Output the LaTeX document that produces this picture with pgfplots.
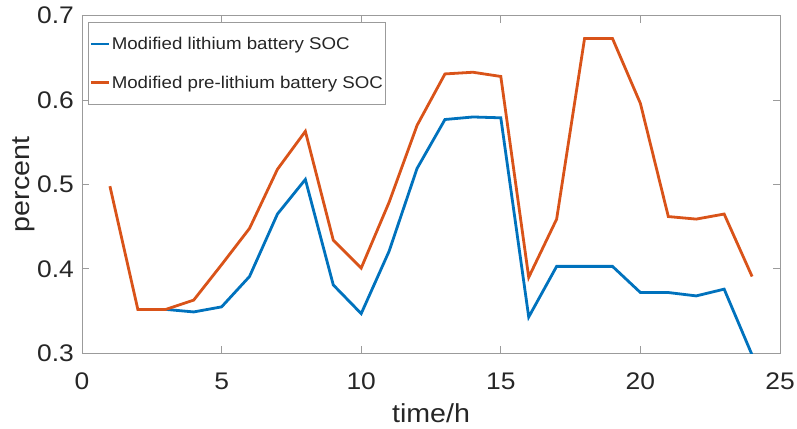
\documentclass[border=0pt]{standalone}
\usepackage{fontspec}
\setmainfont[FakeStretch=1.1]{Liberation Sans}
\newfontfamily\legendfont[FakeStretch=1.1]{Liberation Sans}
\usepackage{pgfplots}
\pgfplotsset{compat=1.18}

\definecolor{socblue}{rgb}{0,0.447,0.741}
\definecolor{socorange}{rgb}{0.85,0.325,0.098}
\definecolor{framegray}{RGB}{155,155,155}
\definecolor{textdark}{RGB}{38,38,38}

\begin{document}
\begin{tikzpicture}
\begin{axis}[
  scale only axis,
  width=698pt, height=337.6pt,
  xmin=0, xmax=25, ymin=0.3, ymax=0.7,
  xtick={0,5,10,15,20,25},
  ytick={0.3,0.4,0.5,0.6,0.7},
  /pgf/number format/assume math mode=true,
  axis line style={framegray, line width=0.9pt},
  tick style={framegray, line width=0.9pt},
  tick align=inside,
  major tick length=7pt,
  xtick pos=both, ytick pos=both,
  ticklabel style={font=\fontsize{24}{28}\selectfont, text=textdark, inner sep=0pt},
  xticklabel style={anchor=north, yshift=-19.7pt},
  yticklabel style={anchor=east, xshift=-8pt,
    /pgf/number format/fixed, /pgf/number format/fixed zerofill,
    /pgf/number format/precision=1},
  xlabel={time/h},
  ylabel={percent},
  label style={font=\fontsize{26}{30}\selectfont, text=textdark, inner sep=0pt},
  xlabel style={at={(axis description cs:0.5,0)}, anchor=base, yshift=-69.7pt},
  ylabel style={at={(axis description cs:-0.0752,0.5)}, anchor=base},
  legend cell align=left,
  legend style={
    at={(axis description cs:0.0086,0.981)}, anchor=north west,
    draw=framegray, line width=0.9pt, fill=white,
    font=\legendfont\fontsize{17}{20}\selectfont, text=textdark,
    inner xsep=1pt, inner ysep=12.5pt,
    row sep=21pt,
    nodes={inner xsep=1.5pt, inner ysep=2pt},
  },
  legend image code/.code={\draw[#1, line width=2.8pt] (0pt,0pt) -- (18pt,0pt);},
]
% the first two hours coincide with the orange curve, so the blue one starts at hour 3
\addplot[socblue, line width=2.8pt] coordinates {
  (3,0.352) (4,0.349) (5,0.355) (6,0.391)
  (7,0.465) (8,0.506) (9,0.381) (10,0.347) (11,0.421) (12,0.519)
  (13,0.577) (14,0.580) (15,0.579) (16,0.343) (17,0.403) (18,0.403)
  (19,0.403) (20,0.372) (21,0.372) (22,0.368) (23,0.376) (24,0.298)
};
\addlegendentry{Modified lithium battery SOC}
\addplot[socorange, line width=2.8pt] coordinates {
  (1,0.498) (2,0.352) (3,0.352) (4,0.363) (5,0.405) (6,0.448)
  (7,0.518) (8,0.563) (9,0.434) (10,0.401) (11,0.479) (12,0.570)
  (13,0.631) (14,0.633) (15,0.628) (16,0.390) (17,0.459) (18,0.673)
  (19,0.673) (20,0.596) (21,0.462) (22,0.459) (23,0.465) (24,0.391)
};
\addlegendentry{Modified pre-lithium battery SOC}
\end{axis}
\path ([shift={(-82pt,-75.7pt)}]current axis.south west)
  rectangle ([shift={(17pt,15.7pt)}]current axis.north east);
\end{tikzpicture}
\end{document}
